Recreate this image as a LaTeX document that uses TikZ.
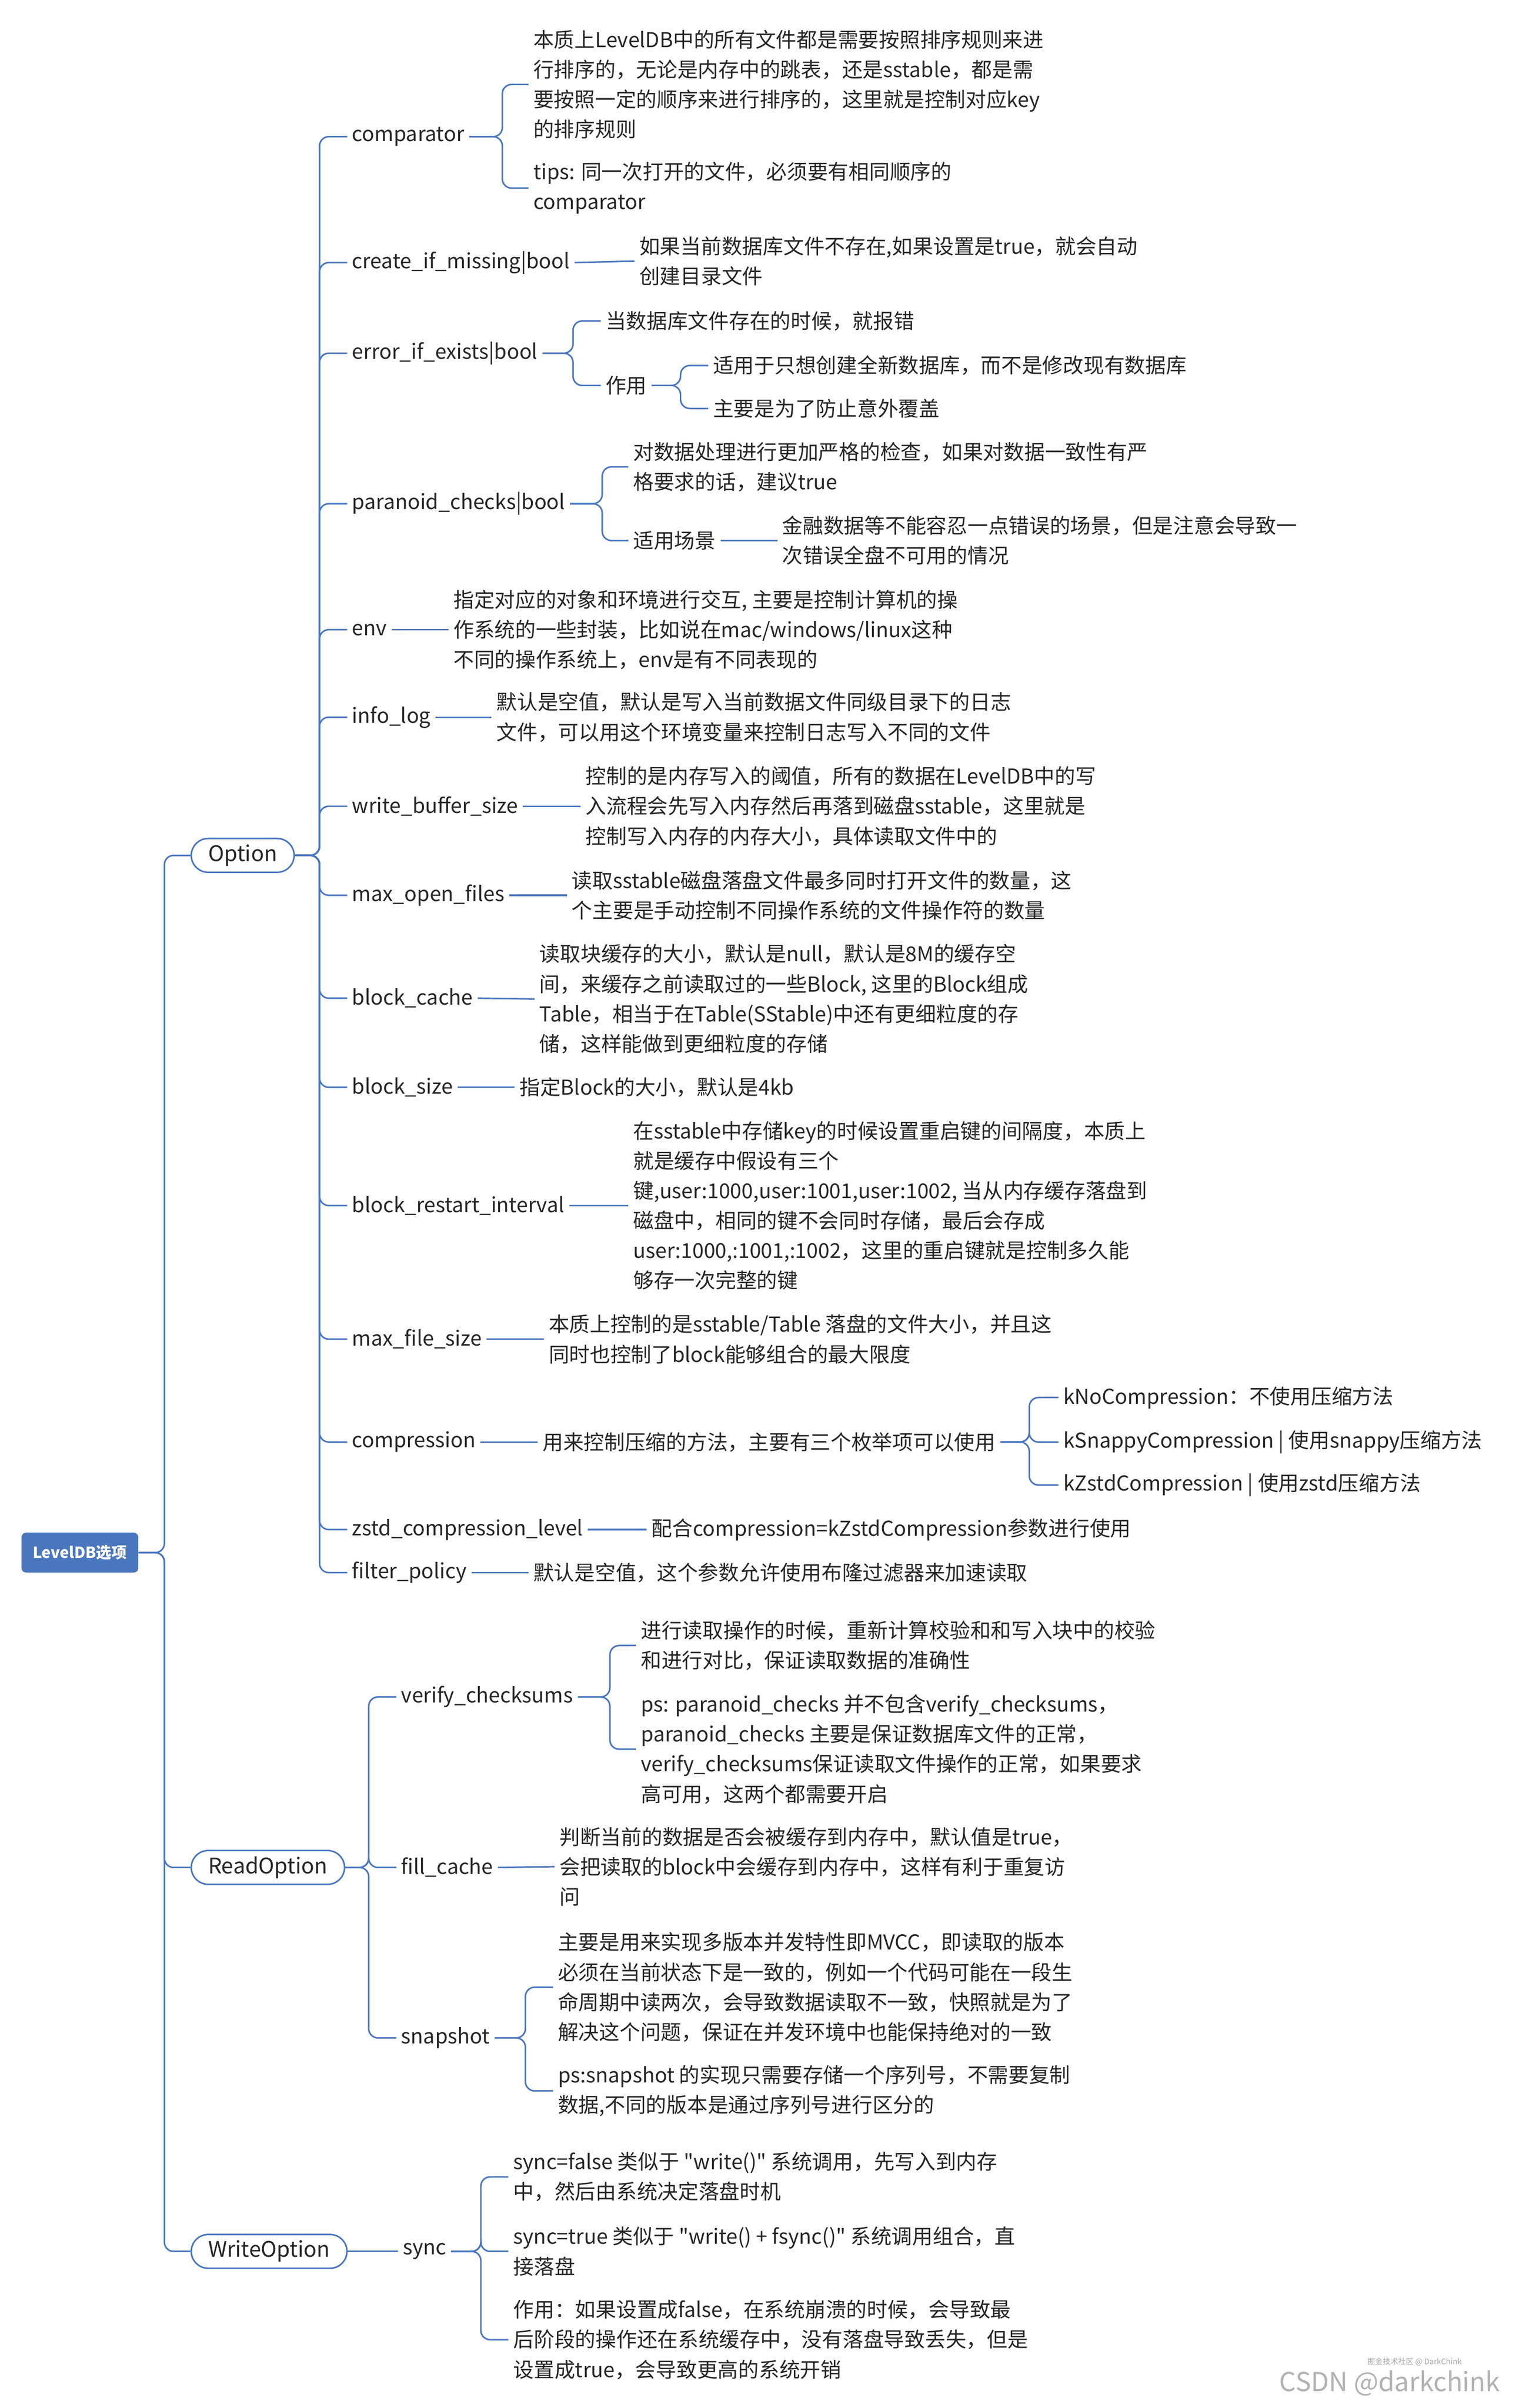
\documentclass[tikz,border=0pt]{standalone}
\usepackage{fontspec}
\setmainfont{Noto Sans CJK SC}[Ligatures=TeXOff]
\definecolor{ln}{HTML}{4A76BE}
\definecolor{tx}{HTML}{262626}
\begin{document}
\begin{tikzpicture}[x=1pt,y=-1pt,
 conn/.style={draw=ln,line width=1pt,rounded corners=6pt},
 lf/.style={anchor=west,align=left,inner xsep=3pt,inner ysep=1pt,text=tx,font=\fontsize{13.4}{19.5}\selectfont},
 pill/.style={draw=ln,line width=1pt,rounded corners=11pt,minimum height=22pt,inner xsep=11pt,text=tx,font=\fontsize{14}{16}\selectfont}]
\useasboundingbox (0,0) rectangle (988.5,1568);
\fill[white] (0,0) rectangle (988.5,1568);
\node[fill=ln,rounded corners=3pt,minimum width=76pt,minimum height=26pt,text=white,font=\fontsize{10}{12}\selectfont\bfseries] (root) at (52,1011) {LevelDB选项};
\node[pill,anchor=west] (opt) at (124,557) {Option};
\node[pill,anchor=west] (rd) at (124,1216) {ReadOption};
\node[pill,anchor=west] (wr) at (124,1466) {WriteOption};
\foreach \n in {opt,rd,wr} \draw[conn] (root.east) -- (107,1011) |- (\n.west);
% Option children
\node[lf] (c1) at (226,89) {comparator};
\node[lf] (c2) at (226,171) {create\_if\_missing|bool};
\node[lf] (c3) at (226,230) {error\_if\_exists|bool};
\node[lf] (c4) at (226,328) {paranoid\_checks|bool};
\node[lf] (c5) at (226,410) {env};
\node[lf] (c6) at (226,467) {info\_log};
\node[lf] (c7) at (226,525) {write\_buffer\_size};
\node[lf] (c8) at (226,583) {max\_open\_files};
\node[lf] (c9) at (226,650) {block\_cache};
\node[lf] (c10) at (226,708) {block\_size};
\node[lf] (c11) at (226,785) {block\_restart\_interval};
\node[lf] (c12) at (226,872) {max\_file\_size};
\node[lf] (c13) at (226,939) {compression};
\node[lf] (c14) at (226,996) {zstd\_compression\_level};
\node[lf] (c15) at (226,1024) {filter\_policy};
\foreach \n in {c1,c2,c3,c4,c5,c6,c7,c8,c9,c10,c11,c12,c13,c14,c15} \draw[conn] (opt.east) -- (208,557) |- (\n.west);
% comparator
\node[lf] (l1a) at (344,55) {本质上LevelDB中的所有文件都是需要按照排序规则来进\\行排序的，无论是内存中的跳表，还是sstable，都是需\\要按照一定的顺序来进行排序的，这里就是控制对应key\\的排序规则};
\node[lf] (l1b) at (344,122.5) {tips: 同一次打开的文件，必须要有相同顺序的\\comparator};
\foreach \n in {l1a,l1b} \draw[conn] (c1.east) -- (327,89) |- (\n.west);
\node[lf] (l2) at (413,170) {如果当前数据库文件不存在,如果设置是true，就会自动\\创建目录文件};
\draw[conn] (c2.east) -- (l2.west);
\node[lf] (l3a) at (391,209) {当数据库文件存在的时候，就报错};
\node[lf] (l3b) at (391,251) {作用};
\foreach \n in {l3a,l3b} \draw[conn] (c3.east) -- (373,230) |- (\n.west);
\node[lf] (l3c) at (461,238) {适用于只想创建全新数据库，而不是修改现有数据库};
\node[lf] (l3d) at (461,266) {主要是为了防止意外覆盖};
\foreach \n in {l3c,l3d} \draw[conn] (l3b.east) -- (443,251) |- (\n.west);
\node[lf] (l4a) at (409,304) {对数据处理进行更加严格的检查，如果对数据一致性有严\\格要求的话，建议true};
\node[lf] (l4b) at (409,352) {适用场景};
\foreach \n in {l4a,l4b} \draw[conn] (c4.east) -- (392,328) |- (\n.west);
\node[lf] (l4c) at (506,352) {金融数据等不能容忍一点错误的场景，但是注意会导致一\\次错误全盘不可用的情况};
\draw[conn] (l4b.east) -- (l4c.west);
\node[lf] (l5) at (292,410) {指定对应的对象和环境进行交互, 主要是控制计算机的操\\作系统的一些封装，比如说在mac/windows/linux这种\\不同的操作系统上，env是有不同表现的};
\draw[conn] (c5.east) -- (l5.west);
\node[lf] (l6) at (320,467) {默认是空值，默认是写入当前数据文件同级目录下的日志\\文件，可以用这个环境变量来控制日志写入不同的文件};
\draw[conn] (c6.east) -- (l6.west);
\node[lf] (l7) at (378,525) {控制的是内存写入的阈值，所有的数据在LevelDB中的写\\入流程会先写入内存然后再落到磁盘sstable，这里就是\\控制写入内存的内存大小，具体读取文件中的};
\draw[conn] (c7.east) -- (l7.west);
\node[lf] (l8) at (369,583) {读取sstable磁盘落盘文件最多同时打开文件的数量，这\\个主要是手动控制不同操作系统的文件操作符的数量};
\draw[conn] (c8.east) -- (l8.west);
\node[lf] (l9) at (348,650.5) {读取块缓存的大小，默认是null，默认是8M的缓存空\\间，来缓存之前读取过的一些Block, 这里的Block组成\\Table，相当于在Table(SStable)中还有更细粒度的存\\储，这样能做到更细粒度的存储};
\draw[conn] (c9.east) -- (l9.west);
\node[lf] (l10) at (335,708) {指定Block的大小，默认是4kb};
\draw[conn] (c10.east) -- (l10.west);
\node[lf] (l11) at (409,785) {在sstable中存储key的时候设置重启键的间隔度，本质上\\就是缓存中假设有三个\\键,user:1000,user:1001,user:1002, 当从内存缓存落盘到\\磁盘中，相同的键不会同时存储，最后会存成\\user:1000,:1001,:1002，这里的重启键就是控制多久能\\够存一次完整的键};
\draw[conn] (c11.east) -- (l11.west);
\node[lf] (l12) at (354,872) {本质上控制的是sstable/Table 落盘的文件大小，并且这\\同时也控制了block能够组合的最大限度};
\draw[conn] (c12.east) -- (l12.west);
\node[lf] (l13) at (350,939) {用来控制压缩的方法，主要有三个枚举项可以使用};
\draw[conn] (c13.east) -- (l13.west);
\node[lf] (l13a) at (689,910) {kNoCompression：不使用压缩方法};
\node[lf] (l13b) at (689,939) {kSnappyCompression | 使用snappy压缩方法};
\node[lf] (l13c) at (689,967) {kZstdCompression | 使用zstd压缩方法};
\foreach \n in {l13a,l13b,l13c} \draw[conn] (l13.east) -- (670,939) |- (\n.west);
\node[lf] (l14) at (421,996) {配合compression=kZstdCompression参数进行使用};
\draw[conn] (c14.east) -- (l14.west);
\node[lf] (l15) at (344,1024) {默认是空值，这个参数允许使用布隆过滤器来加速读取};
\draw[conn] (c15.east) -- (l15.west);
% ReadOption
\node[lf] (r1) at (258,1105) {verify\_checksums};
\node[lf] (r2) at (258,1216) {fill\_cache};
\node[lf] (r3) at (258,1327) {snapshot};
\foreach \n in {r1,r2,r3} \draw[conn] (rd.east) -- (240,1216) |- (\n.west);
\node[lf] (r1a) at (414,1071.5) {进行读取操作的时候，重新计算校验和和写入块中的校验\\和进行对比，保证读取数据的准确性};
\node[lf] (r1b) at (414,1139) {ps: paranoid\_checks 并不包含verify\_checksums，\\paranoid\_checks 主要是保证数据库文件的正常，\\verify\_checksums保证读取文件操作的正常，如果要求\\高可用，这两个都需要开启};
\foreach \n in {r1a,r1b} \draw[conn] (r1.east) -- (397,1105) |- (\n.west);
\node[lf] (r2a) at (361,1215.5) {判断当前的数据是否会被缓存到内存中，默认值是true，\\会把读取的block中会缓存到内存中，这样有利于重复访\\问};
\draw[conn] (r2.east) -- (r2a.west);
\node[lf] (r3a) at (360,1294) {主要是用来实现多版本并发特性即MVCC，即读取的版本\\必须在当前状态下是一致的，例如一个代码可能在一段生\\命周期中读两次，会导致数据读取不一致，快照就是为了\\解决这个问题，保证在并发环境中也能保持绝对的一致};
\node[lf] (r3b) at (360,1361.5) {ps:snapshot 的实现只需要存储一个序列号，不需要复制\\数据,不同的版本是通过序列号进行区分的};
\foreach \n in {r3a,r3b} \draw[conn] (r3.east) -- (342,1327) |- (\n.west);
% WriteOption
\node[lf] (w1) at (259,1466) {sync};
\draw[conn] (wr.east) -- (w1.west);
\node[lf] (w1a) at (331,1417.5) {sync=false 类似于 "write()" 系统调用，先写入到内存\\中，然后由系统决定落盘时机};
\node[lf] (w1b) at (331,1466) {sync=true 类似于 "write() + fsync()" 系统调用组合，直\\接落盘};
\node[lf] (w1c) at (331,1523.5) {作用：如果设置成false，在系统崩溃的时候，会导致最\\后阶段的操作还在系统缓存中，没有落盘导致丢失，但是\\设置成true，会导致更高的系统开销};
\foreach \n in {w1a,w1b,w1c} \draw[conn] (w1.east) -- (313,1466) |- (\n.west);
\node[anchor=east,text=gray!70,font=\fontsize{5}{6}\selectfont] (wm0) at (955,1538) {掘金技术社区 @ DarkChink};
\node[anchor=east,text=gray!60,font=\fontsize{17}{20}\selectfont] (wm) at (980,1552) {CSDN @darkchink};
\end{tikzpicture}
\end{document}
